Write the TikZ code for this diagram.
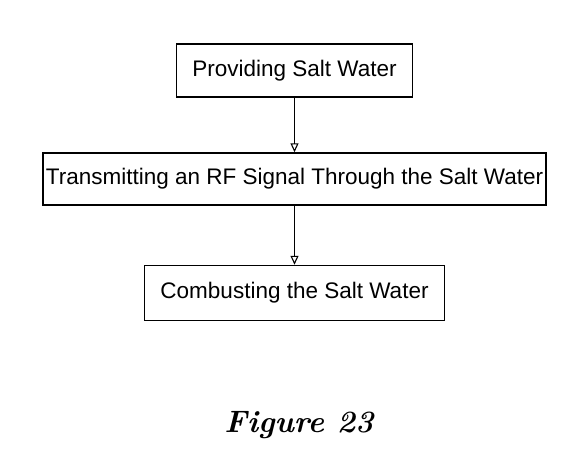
\documentclass[tikz,border=0pt]{standalone}
\usepackage{fontspec}
\setmainfont{Liberation Sans}
\newfontfamily\figfont{Latin Modern Roman}
\usetikzlibrary{arrows.meta}
\tikzset{
  stepbox/.style={draw=black, line width=1.5pt, inner sep=0pt, minimum height=53pt, font=\fontsize{22.5}{25}\selectfont, text=black},
  arr/.style={draw=black, line width=1.3pt, -{Triangle[open, width=8pt, length=9pt, line width=1.1pt]}}
}
\begin{document}
\begin{tikzpicture}[x=1pt, y=-1pt]
\useasboundingbox (0,0) rectangle (569,466);
\node[stepbox, minimum width=236pt] (b1) at (294.5,70.5) {Providing Salt Water};
\node[stepbox, minimum width=503pt, minimum height=52pt] (b2) at (294.5,179) {Transmitting an RF Signal Through the Salt Water};
\node[stepbox, minimum width=300pt, minimum height=55pt] (b3) at (294.5,293) {Combusting the Salt Water};
\draw[arr] (b1.south) -- (b2.north);
\draw[arr] (b2.south) -- (b3.north);
\node[font=\figfont\bfseries\itshape\fontsize{31}{34}\selectfont] (fig) at (299,425) {Figure 23};
\end{tikzpicture}
\end{document}
